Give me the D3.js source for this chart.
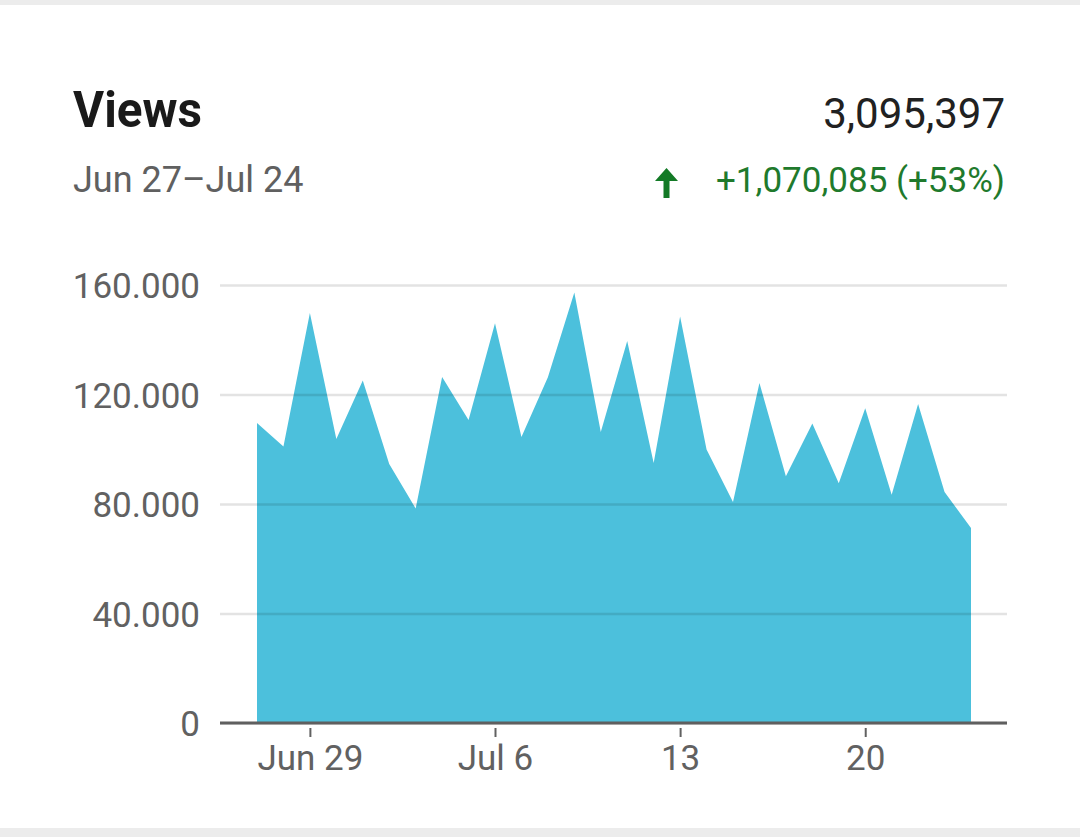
<!DOCTYPE html>
<html>
<head>
<meta charset="utf-8">
<script src="https://cdn.jsdelivr.net/npm/d3@7"></script>
<style>
  html, body { margin: 0; padding: 0; background: #fff; }
  svg { display: block; }
</style>
</head>
<body>
<svg id="svgx"></svg>
<script>
// data
var days = ["2020-06-27","2020-06-28","2020-06-29","2020-06-30","2020-07-01","2020-07-02","2020-07-03",
            "2020-07-04","2020-07-05","2020-07-06","2020-07-07","2020-07-08","2020-07-09","2020-07-10",
            "2020-07-11","2020-07-12","2020-07-13","2020-07-14","2020-07-15","2020-07-16","2020-07-17",
            "2020-07-18","2020-07-19","2020-07-20","2020-07-21","2020-07-22","2020-07-23","2020-07-24"];
var views = [109600, 101000, 149800, 103700, 125100, 94600, 78400,
             126400, 110700, 146000, 104500, 126300, 157300, 106300,
             139500, 95000, 148500, 99900, 80700, 124200, 90100,
             109400, 87600, 115000, 83400, 116500, 84400, 71200];
var yTicks = [0, 40000, 80000, 120000, 160000];
var xTickDays = ["2020-06-29","2020-07-06","2020-07-13","2020-07-20"];
var xTickLabels = ["Jun 29","Jul 6","13","20"];

var title = "Views";
var subtitle = "Jun 27\u2013Jul 24";
var total = "3,095,397";
var change = "+1,070,085 (+53%)";

var widthA = 1080, heightA = 837;
var margin = { top: 285, right: 73, bottom: 114, left: 220 };
var innerWidth = widthA - margin.left - margin.right;
var innerHeight = heightA - margin.top - margin.bottom;
var fontsize = 35;
var font = "Roboto, 'Noto Sans', sans-serif";

var parseDay = d3.timeParse("%Y-%m-%d");
var data = days.map((d, i) => ({ day: parseDay(d), views: views[i] }));

var svg = d3.select('#svgx')
  .attr("width", widthA)
  .attr("height", heightA)
  .style("font-family", font);

// card background + grey bands
svg.append("rect").attr("width", widthA).attr("height", heightA).attr("fill", "#fff");
svg.append("rect").attr("width", widthA).attr("height", 5).attr("fill", "#ececec");
svg.append("rect").attr("y", heightA - 9).attr("width", widthA).attr("height", 9).attr("fill", "#ececec");

//************************ header
svg.append("text")
  .attr("x", 73).attr("y", 127)
  .text(title)
  .attr("fill", "#1a1a1a")
  .style("font-size", 50)
  .style("font-weight", 700)
  .attr("textLength", 129)
  .attr("lengthAdjust", "spacingAndGlyphs");

svg.append("text")
  .attr("x", 73).attr("y", 192)
  .text(subtitle)
  .attr("fill", "#606060")
  .style("font-size", 36);

svg.append("text")
  .attr("x", 1005).attr("y", 128)
  .attr("text-anchor", "end")
  .text(total)
  .attr("fill", "#212121")
  .style("font-size", 42);

svg.append("text")
  .attr("x", 1005).attr("y", 192)
  .attr("text-anchor", "end")
  .text(change)
  .attr("fill", "#1f7a2c")
  .style("font-size", 35);

// up arrow icon
svg.append("path")
  .attr("d", "M 666.5 168 L 678 181 L 669.5 181 L 669.5 198 L 663.5 198 L 663.5 181 L 655 181 Z")
  .attr("fill", "#137a26");

//************************ scales
var x = d3.scaleTime()
  .domain(d3.extent(data, d => d.day))
  .range([257 - margin.left, 971 - margin.left]);
var y = d3.scaleLinear().domain([0, 160000]).range([innerHeight, 0]);

var g = svg.append("g").attr("transform", `translate(${margin.left},${margin.top})`);

//************************ area
var area = d3.area()
  .x(d => x(d.day))
  .y0(y(0))
  .y1(d => y(d.views));

g.append("path")
  .datum(data)
  .attr("d", area)
  .attr("fill", "#4cc0dc");

//************************ y axis with gridlines (drawn over the area)
var locale = d3.formatLocale({ decimal: ",", thousands: ".", grouping: [3], currency: ["", ""] });
var yAxis = d3.axisLeft(y)
  .tickValues(yTicks)
  .tickSize(-innerWidth)
  .tickPadding(20)
  .tickFormat(locale.format(","));

var yAxisG = g.append("g").call(yAxis);
yAxisG.select(".domain").remove();
yAxisG.selectAll("line")
  .attr("stroke", "rgba(0,0,0,0.11)")
  .attr("stroke-width", 2.5);
yAxisG.selectAll("text")
  .attr("fill", "#616161")
  .attr("dy", "0.36em")
  .style("font-size", fontsize)
  .style("font-family", font);

//************************ x axis
var xAxis = d3.axisBottom(x)
  .tickValues(xTickDays.map(parseDay))
  .tickSize(14)
  .tickPadding(8)
  .tickFormat((d, i) => xTickLabels[i]);

var xAxisG = g.append("g")
  .attr("transform", `translate(0,${innerHeight})`)
  .call(xAxis);
xAxisG.select(".domain").remove();
xAxisG.selectAll("line")
  .attr("y1", 5)
  .attr("stroke", "#616161")
  .attr("stroke-width", 2);
xAxisG.selectAll("text")
  .attr("fill", "#616161")
  .style("font-size", fontsize)
  .style("font-family", font);

// baseline
g.append("line")
  .attr("x1", 0).attr("x2", innerWidth)
  .attr("y1", y(0)).attr("y2", y(0))
  .attr("stroke", "#5f5f5f")
  .attr("stroke-width", 3);
</script>
</body>
</html>
